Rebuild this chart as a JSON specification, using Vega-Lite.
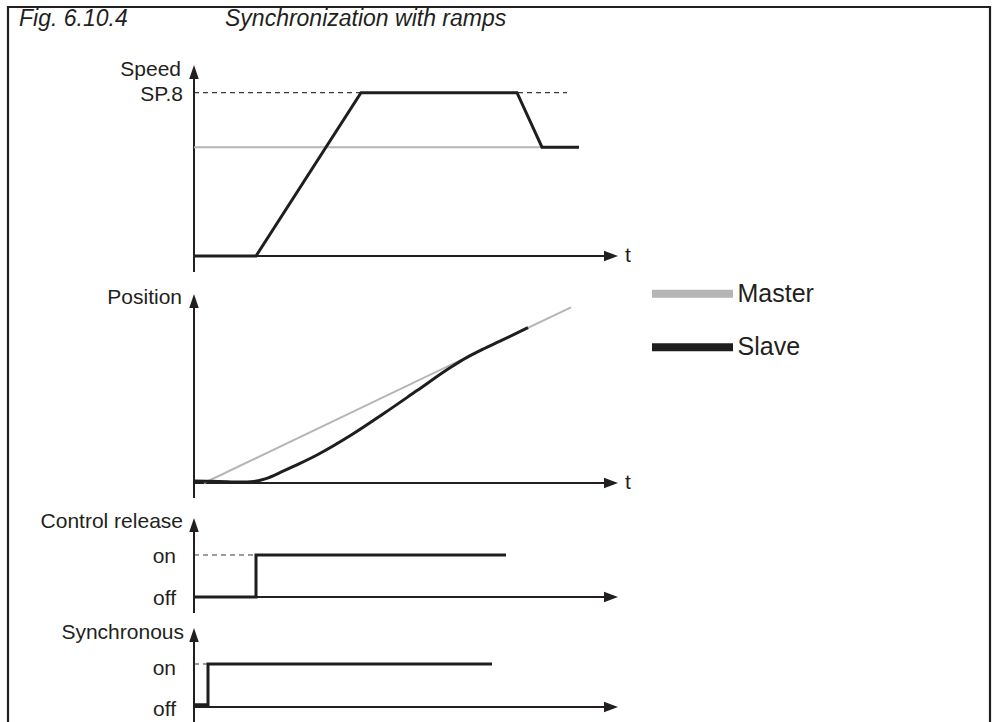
{
  "$schema": "https://vega.github.io/schema/vega-lite/v6.json",
  "width": 982,
  "height": 715,
  "autosize": {"type": "none"},
  "padding": {"left": 8, "top": 7, "right": 4, "bottom": 0},
  "background": "#ffffff",
  "config": {"view": {"stroke": null}},
  "data": {"values": [{}]},
  "datasets": {
    "speed": [
      {"series": "Master", "t": 0, "v": 66.6},
      {"series": "Master", "t": 38.5, "v": 66.6},
      {"series": "Slave", "t": 0, "v": 0},
      {"series": "Slave", "t": 6.2, "v": 0},
      {"series": "Slave", "t": 16.7, "v": 100},
      {"series": "Slave", "t": 32.3, "v": 100},
      {"series": "Slave", "t": 34.8, "v": 66.6},
      {"series": "Slave", "t": 38.5, "v": 66.6}
    ],
    "position": [
      {"series": "Master", "t": 1.0, "v": 0},
      {"series": "Master", "t": 37.7, "v": 87.85},
      {"series": "Slave", "t": 0, "v": 1.0},
      {"series": "Slave", "t": 2.5, "v": 0.8},
      {"series": "Slave", "t": 4.6, "v": 0.45},
      {"series": "Slave", "t": 6.0, "v": 0.8},
      {"series": "Slave", "t": 7.2, "v": 2.2},
      {"series": "Slave", "t": 8.9, "v": 5.9},
      {"series": "Slave", "t": 10.6, "v": 9.8},
      {"series": "Slave", "t": 12.3, "v": 14.0},
      {"series": "Slave", "t": 15.6, "v": 23.6},
      {"series": "Slave", "t": 18.9, "v": 34.5},
      {"series": "Slave", "t": 22.3, "v": 46.2},
      {"series": "Slave", "t": 25.6, "v": 57.6},
      {"series": "Slave", "t": 27.3, "v": 62.8},
      {"series": "Slave", "t": 28.9, "v": 66.9},
      {"series": "Slave", "t": 30.6, "v": 70.9},
      {"series": "Slave", "t": 33.4, "v": 77.7}
    ],
    "control": [
      {"series": "Slave", "i": 0, "t": 0, "v": 0},
      {"series": "Slave", "i": 1, "t": 6.2, "v": 0},
      {"series": "Slave", "i": 2, "t": 6.2, "v": 1},
      {"series": "Slave", "i": 3, "t": 31.2, "v": 1}
    ],
    "sync": [
      {"series": "Slave", "i": 0, "t": 0, "v": 0.05},
      {"series": "Slave", "i": 1, "t": 1.4, "v": 0.05},
      {"series": "Slave", "i": 2, "t": 1.4, "v": 1},
      {"series": "Slave", "i": 3, "t": 29.8, "v": 1}
    ]
  },
  "layer": [
    {
      "layer": [
        {"mark": {"type": "rect", "filled": false, "stroke": "#231f20", "strokeWidth": 2.2},
         "encoding": {
           "x": {"datum": -18.6, "type": "quantitative", "scale": {"domain": [-18.6, 79.6], "nice": false, "zero": false}, "axis": null},
           "x2": {"datum": 79.6},
           "y": {"datum": 152.48, "type": "quantitative", "scale": {"domain": [-285.36, 152.48], "nice": false, "zero": false}, "axis": null},
           "y2": {"datum": -400}}},
        {"data": {"values": [{"label": "Fig. 6.10.4", "t": -17.5}, {"label": "Synchronization with ramps", "t": 3.1}]},
         "mark": {"type": "text", "align": "left", "baseline": "alphabetic", "font": "Liberation Sans", "fontSize": 23, "fontStyle": "italic", "color": "#231f20"},
         "encoding": {
           "x": {"field": "t", "type": "quantitative", "scale": {"domain": [-18.6, 79.6], "nice": false, "zero": false}, "axis": null},
           "y": {"datum": 140.8, "type": "quantitative", "scale": {"domain": [-285.36, 152.48], "nice": false, "zero": false}, "axis": null},
           "text": {"field": "label"}}},
        {"data": {"values": [{"t0": 0, "t1": 37.3, "v": 100}]},
         "mark": {"type": "rule", "color": "#3a3a3a", "strokeWidth": 1.2, "strokeDash": [5, 4]},
         "encoding": {
           "x": {"field": "t0", "type": "quantitative", "scale": {"domain": [-18.6, 79.6], "nice": false, "zero": false}, "axis": null},
           "x2": {"field": "t1"},
           "y": {"field": "v", "type": "quantitative", "scale": {"domain": [-285.36, 152.48], "nice": false, "zero": false}, "axis": null}}},
        {"mark": {"type": "rule", "color": "#231f20", "strokeWidth": 2},
         "encoding": {
           "x": {"datum": 0, "type": "quantitative", "scale": {"domain": [-18.6, 79.6], "nice": false, "zero": false}, "axis": null},
           "y": {"datum": -9.8, "type": "quantitative", "scale": {"domain": [-285.36, 152.48], "nice": false, "zero": false}, "axis": null},
           "y2": {"datum": 112}}},
        {"mark": {"type": "rule", "color": "#231f20", "strokeWidth": 2},
         "encoding": {
           "x": {"datum": 0, "type": "quantitative", "scale": {"domain": [-18.6, 79.6], "nice": false, "zero": false}, "axis": null},
           "x2": {"datum": 41.6},
           "y": {"datum": 0, "type": "quantitative", "scale": {"domain": [-285.36, 152.48], "nice": false, "zero": false}, "axis": null}}},
        {"mark": {"type": "point", "shape": "M0,0L0.68,2L-0.68,2Z", "size": 196, "filled": true, "color": "#231f20", "opacity": 1},
         "encoding": {
           "x": {"datum": 0, "type": "quantitative", "scale": {"domain": [-18.6, 79.6], "nice": false, "zero": false}, "axis": null},
           "y": {"datum": 117, "type": "quantitative", "scale": {"domain": [-285.36, 152.48], "nice": false, "zero": false}, "axis": null}}},
        {"mark": {"type": "point", "shape": "M0,0L-2,-0.75L-2,0.75Z", "size": 196, "filled": true, "color": "#231f20", "opacity": 1},
         "encoding": {
           "x": {"datum": 42.4, "type": "quantitative", "scale": {"domain": [-18.6, 79.6], "nice": false, "zero": false}, "axis": null},
           "y": {"datum": 0, "type": "quantitative", "scale": {"domain": [-285.36, 152.48], "nice": false, "zero": false}, "axis": null}}},
        {"data": {"name": "speed"}, "transform": [{"filter": "datum.series === 'Master'"}],
         "mark": {"type": "line", "strokeWidth": 2},
         "encoding": {
           "x": {"field": "t", "type": "quantitative", "scale": {"domain": [-18.6, 79.6], "nice": false, "zero": false}, "axis": null},
           "y": {"field": "v", "type": "quantitative", "scale": {"domain": [-285.36, 152.48], "nice": false, "zero": false}, "axis": null},
           "color": {"field": "series", "type": "nominal", "scale": {"domain": ["Master", "Slave"], "range": ["#b5b5b5", "#1e1e1e"]}, "legend": null}}},
        {"data": {"name": "speed"}, "transform": [{"filter": "datum.series === 'Slave'"}],
         "mark": {"type": "line", "strokeWidth": 3},
         "encoding": {
           "x": {"field": "t", "type": "quantitative", "scale": {"domain": [-18.6, 79.6], "nice": false, "zero": false}, "axis": null},
           "y": {"field": "v", "type": "quantitative", "scale": {"domain": [-285.36, 152.48], "nice": false, "zero": false}, "axis": null},
           "color": {"field": "series", "type": "nominal", "legend": null}}},
        {"data": {"values": [{"label": "Speed", "v": 114.1}]},
         "mark": {"type": "text", "align": "right", "baseline": "middle", "font": "Liberation Sans", "fontSize": 21, "color": "#231f20"},
         "encoding": {
           "x": {"datum": -1.3, "type": "quantitative", "scale": {"domain": [-18.6, 79.6], "nice": false, "zero": false}, "axis": null},
           "y": {"field": "v", "type": "quantitative", "scale": {"domain": [-285.36, 152.48], "nice": false, "zero": false}, "axis": null},
           "text": {"field": "label"}}},
        {"data": {"values": [{"label": "SP.8", "v": 100}]},
         "mark": {"type": "text", "align": "right", "baseline": "middle", "dy": 2, "font": "Liberation Sans", "fontSize": 21, "color": "#231f20"},
         "encoding": {
           "x": {"datum": -1.1, "type": "quantitative", "scale": {"domain": [-18.6, 79.6], "nice": false, "zero": false}, "axis": null},
           "y": {"field": "v", "type": "quantitative", "scale": {"domain": [-285.36, 152.48], "nice": false, "zero": false}, "axis": null},
           "text": {"field": "label"}}},
        {"mark": {"type": "text", "align": "left", "baseline": "middle", "font": "Liberation Sans", "fontSize": 21, "color": "#231f20"},
         "encoding": {
           "x": {"datum": 43.1, "type": "quantitative", "scale": {"domain": [-18.6, 79.6], "nice": false, "zero": false}, "axis": null},
           "y": {"datum": 0, "type": "quantitative", "scale": {"domain": [-285.36, 152.48], "nice": false, "zero": false}, "axis": null},
           "text": {"value": "t"}}}
      ]
    },
    {
      "layer": [
        {"mark": {"type": "rule", "color": "#231f20", "strokeWidth": 2},
         "encoding": {
           "x": {"datum": 0, "type": "quantitative", "scale": {"domain": [-18.6, 79.6], "nice": false, "zero": false}, "axis": null},
           "y": {"datum": -7.5, "type": "quantitative", "scale": {"domain": [-119.5, 238], "nice": false, "zero": false}, "axis": null},
           "y2": {"datum": 90}}},
        {"mark": {"type": "rule", "color": "#231f20", "strokeWidth": 2},
         "encoding": {
           "x": {"datum": 0, "type": "quantitative", "scale": {"domain": [-18.6, 79.6], "nice": false, "zero": false}, "axis": null},
           "x2": {"datum": 41.6},
           "y": {"datum": 0, "type": "quantitative", "scale": {"domain": [-119.5, 238], "nice": false, "zero": false}, "axis": null}}},
        {"mark": {"type": "point", "shape": "M0,0L0.68,2L-0.68,2Z", "size": 196, "filled": true, "color": "#231f20", "opacity": 1},
         "encoding": {
           "x": {"datum": 0, "type": "quantitative", "scale": {"domain": [-18.6, 79.6], "nice": false, "zero": false}, "axis": null},
           "y": {"datum": 94.5, "type": "quantitative", "scale": {"domain": [-119.5, 238], "nice": false, "zero": false}, "axis": null}}},
        {"mark": {"type": "point", "shape": "M0,0L-2,-0.75L-2,0.75Z", "size": 196, "filled": true, "color": "#231f20", "opacity": 1},
         "encoding": {
           "x": {"datum": 42.4, "type": "quantitative", "scale": {"domain": [-18.6, 79.6], "nice": false, "zero": false}, "axis": null},
           "y": {"datum": 0, "type": "quantitative", "scale": {"domain": [-119.5, 238], "nice": false, "zero": false}, "axis": null}}},
        {"data": {"name": "position"}, "transform": [{"filter": "datum.series === 'Master'"}],
         "mark": {"type": "line", "strokeWidth": 2},
         "encoding": {
           "x": {"field": "t", "type": "quantitative", "scale": {"domain": [-18.6, 79.6], "nice": false, "zero": false}, "axis": null},
           "y": {"field": "v", "type": "quantitative", "scale": {"domain": [-119.5, 238], "nice": false, "zero": false}, "axis": null},
           "color": {"field": "series", "type": "nominal", "legend": null}}},
        {"data": {"name": "position"}, "transform": [{"filter": "datum.series === 'Slave'"}],
         "mark": {"type": "line", "strokeWidth": 3, "interpolate": "monotone"},
         "encoding": {
           "x": {"field": "t", "type": "quantitative", "scale": {"domain": [-18.6, 79.6], "nice": false, "zero": false}, "axis": null},
           "y": {"field": "v", "type": "quantitative", "scale": {"domain": [-119.5, 238], "nice": false, "zero": false}, "axis": null},
           "color": {"field": "series", "type": "nominal", "legend": null}}},
        {"data": {"values": [{"label": "Position", "v": 92.6}]},
         "mark": {"type": "text", "align": "right", "baseline": "middle", "font": "Liberation Sans", "fontSize": 21, "color": "#231f20"},
         "encoding": {
           "x": {"datum": -1.2, "type": "quantitative", "scale": {"domain": [-18.6, 79.6], "nice": false, "zero": false}, "axis": null},
           "y": {"field": "v", "type": "quantitative", "scale": {"domain": [-119.5, 238], "nice": false, "zero": false}, "axis": null},
           "text": {"field": "label"}}},
        {"mark": {"type": "text", "align": "left", "baseline": "middle", "font": "Liberation Sans", "fontSize": 21, "color": "#231f20"},
         "encoding": {
           "x": {"datum": 43.1, "type": "quantitative", "scale": {"domain": [-18.6, 79.6], "nice": false, "zero": false}, "axis": null},
           "y": {"datum": 0, "type": "quantitative", "scale": {"domain": [-119.5, 238], "nice": false, "zero": false}, "axis": null},
           "text": {"value": "t"}}}
      ]
    },
    {
      "layer": [
        {"data": {"values": [{"t0": 0, "t1": 6.2, "v": 1}]},
         "mark": {"type": "rule", "color": "#3a3a3a", "strokeWidth": 1.2, "strokeDash": [5, 4]},
         "encoding": {
           "x": {"field": "t0", "type": "quantitative", "scale": {"domain": [-18.6, 79.6], "nice": false, "zero": false}, "axis": null},
           "x2": {"field": "t1"},
           "y": {"field": "v", "type": "quantitative", "scale": {"domain": [-2.976, 14.048], "nice": false, "zero": false}, "axis": null}}},
        {"mark": {"type": "rule", "color": "#231f20", "strokeWidth": 2},
         "encoding": {
           "x": {"datum": 0, "type": "quantitative", "scale": {"domain": [-18.6, 79.6], "nice": false, "zero": false}, "axis": null},
           "y": {"datum": -0.381, "type": "quantitative", "scale": {"domain": [-2.976, 14.048], "nice": false, "zero": false}, "axis": null},
           "y2": {"datum": 1.75}}},
        {"mark": {"type": "rule", "color": "#231f20", "strokeWidth": 2},
         "encoding": {
           "x": {"datum": 0, "type": "quantitative", "scale": {"domain": [-18.6, 79.6], "nice": false, "zero": false}, "axis": null},
           "x2": {"datum": 41.6},
           "y": {"datum": 0, "type": "quantitative", "scale": {"domain": [-2.976, 14.048], "nice": false, "zero": false}, "axis": null}}},
        {"mark": {"type": "point", "shape": "M0,0L0.68,2L-0.68,2Z", "size": 196, "filled": true, "color": "#231f20", "opacity": 1},
         "encoding": {
           "x": {"datum": 0, "type": "quantitative", "scale": {"domain": [-18.6, 79.6], "nice": false, "zero": false}, "axis": null},
           "y": {"datum": 1.881, "type": "quantitative", "scale": {"domain": [-2.976, 14.048], "nice": false, "zero": false}, "axis": null}}},
        {"mark": {"type": "point", "shape": "M0,0L-2,-0.75L-2,0.75Z", "size": 196, "filled": true, "color": "#231f20", "opacity": 1},
         "encoding": {
           "x": {"datum": 42.4, "type": "quantitative", "scale": {"domain": [-18.6, 79.6], "nice": false, "zero": false}, "axis": null},
           "y": {"datum": 0, "type": "quantitative", "scale": {"domain": [-2.976, 14.048], "nice": false, "zero": false}, "axis": null}}},
        {"data": {"name": "control"},
         "mark": {"type": "line", "strokeWidth": 3},
         "encoding": {
           "x": {"field": "t", "type": "quantitative", "scale": {"domain": [-18.6, 79.6], "nice": false, "zero": false}, "axis": null},
           "y": {"field": "v", "type": "quantitative", "scale": {"domain": [-2.976, 14.048], "nice": false, "zero": false}, "axis": null},
           "order": {"field": "i", "type": "quantitative"},
           "color": {"field": "series", "type": "nominal", "legend": null}}},
        {"data": {"values": [{"label": "Control release", "v": 1.786}]},
         "mark": {"type": "text", "align": "right", "baseline": "middle", "font": "Liberation Sans", "fontSize": 21, "color": "#231f20"},
         "encoding": {
           "x": {"datum": -1.1, "type": "quantitative", "scale": {"domain": [-18.6, 79.6], "nice": false, "zero": false}, "axis": null},
           "y": {"field": "v", "type": "quantitative", "scale": {"domain": [-2.976, 14.048], "nice": false, "zero": false}, "axis": null},
           "text": {"field": "label"}}},
        {"data": {"values": [{"label": "on", "v": 1}, {"label": "off", "v": 0}]},
         "mark": {"type": "text", "align": "right", "baseline": "middle", "dy": 2, "font": "Liberation Sans", "fontSize": 21, "color": "#231f20"},
         "encoding": {
           "x": {"datum": -1.8, "type": "quantitative", "scale": {"domain": [-18.6, 79.6], "nice": false, "zero": false}, "axis": null},
           "y": {"field": "v", "type": "quantitative", "scale": {"domain": [-2.976, 14.048], "nice": false, "zero": false}, "axis": null},
           "text": {"field": "label"}}}
      ]
    },
    {
      "layer": [
        {"data": {"values": [{"t0": 0, "t1": 1.4, "v": 1}]},
         "mark": {"type": "rule", "color": "#3a3a3a", "strokeWidth": 1.2, "strokeDash": [5, 4]},
         "encoding": {
           "x": {"field": "t0", "type": "quantitative", "scale": {"domain": [-18.6, 79.6], "nice": false, "zero": false}, "axis": null},
           "x2": {"field": "t1"},
           "y": {"field": "v", "type": "quantitative", "scale": {"domain": [-0.349, 16.279], "nice": false, "zero": false}, "axis": null}}},
        {"mark": {"type": "rule", "color": "#231f20", "strokeWidth": 2},
         "encoding": {
           "x": {"datum": 0, "type": "quantitative", "scale": {"domain": [-18.6, 79.6], "nice": false, "zero": false}, "axis": null},
           "y": {"datum": -0.6, "type": "quantitative", "scale": {"domain": [-0.349, 16.279], "nice": false, "zero": false}, "axis": null},
           "y2": {"datum": 1.71}}},
        {"mark": {"type": "rule", "color": "#231f20", "strokeWidth": 2},
         "encoding": {
           "x": {"datum": 0, "type": "quantitative", "scale": {"domain": [-18.6, 79.6], "nice": false, "zero": false}, "axis": null},
           "x2": {"datum": 41.6},
           "y": {"datum": 0, "type": "quantitative", "scale": {"domain": [-0.349, 16.279], "nice": false, "zero": false}, "axis": null}}},
        {"mark": {"type": "point", "shape": "M0,0L0.68,2L-0.68,2Z", "size": 196, "filled": true, "color": "#231f20", "opacity": 1},
         "encoding": {
           "x": {"datum": 0, "type": "quantitative", "scale": {"domain": [-18.6, 79.6], "nice": false, "zero": false}, "axis": null},
           "y": {"datum": 1.837, "type": "quantitative", "scale": {"domain": [-0.349, 16.279], "nice": false, "zero": false}, "axis": null}}},
        {"mark": {"type": "point", "shape": "M0,0L-2,-0.75L-2,0.75Z", "size": 196, "filled": true, "color": "#231f20", "opacity": 1},
         "encoding": {
           "x": {"datum": 42.4, "type": "quantitative", "scale": {"domain": [-18.6, 79.6], "nice": false, "zero": false}, "axis": null},
           "y": {"datum": 0, "type": "quantitative", "scale": {"domain": [-0.349, 16.279], "nice": false, "zero": false}, "axis": null}}},
        {"data": {"name": "sync"},
         "mark": {"type": "line", "strokeWidth": 3},
         "encoding": {
           "x": {"field": "t", "type": "quantitative", "scale": {"domain": [-18.6, 79.6], "nice": false, "zero": false}, "axis": null},
           "y": {"field": "v", "type": "quantitative", "scale": {"domain": [-0.349, 16.279], "nice": false, "zero": false}, "axis": null},
           "order": {"field": "i", "type": "quantitative"},
           "color": {"field": "series", "type": "nominal", "legend": null}}},
        {"data": {"values": [{"label": "Synchronous", "v": 1.72}]},
         "mark": {"type": "text", "align": "right", "baseline": "middle", "font": "Liberation Sans", "fontSize": 21, "color": "#231f20"},
         "encoding": {
           "x": {"datum": -1.0, "type": "quantitative", "scale": {"domain": [-18.6, 79.6], "nice": false, "zero": false}, "axis": null},
           "y": {"field": "v", "type": "quantitative", "scale": {"domain": [-0.349, 16.279], "nice": false, "zero": false}, "axis": null},
           "text": {"field": "label"}}},
        {"data": {"values": [{"label": "on", "v": 1}]},
         "mark": {"type": "text", "align": "right", "baseline": "middle", "dy": 5, "font": "Liberation Sans", "fontSize": 21, "color": "#231f20"},
         "encoding": {
           "x": {"datum": -1.8, "type": "quantitative", "scale": {"domain": [-18.6, 79.6], "nice": false, "zero": false}, "axis": null},
           "y": {"field": "v", "type": "quantitative", "scale": {"domain": [-0.349, 16.279], "nice": false, "zero": false}, "axis": null},
           "text": {"field": "label"}}},
        {"data": {"values": [{"label": "off", "v": 0}]},
         "mark": {"type": "text", "align": "right", "baseline": "middle", "dy": 3, "font": "Liberation Sans", "fontSize": 21, "color": "#231f20"},
         "encoding": {
           "x": {"datum": -1.8, "type": "quantitative", "scale": {"domain": [-18.6, 79.6], "nice": false, "zero": false}, "axis": null},
           "y": {"field": "v", "type": "quantitative", "scale": {"domain": [-0.349, 16.279], "nice": false, "zero": false}, "axis": null},
           "text": {"field": "label"}}}
      ]
    },
    {
      "data": {"values": [{"series": "Master"}, {"series": "Slave"}]},
      "layer": [
        {"mark": {"type": "rule", "strokeWidth": 8},
         "encoding": {
           "x": {"datum": 45.8, "type": "quantitative", "scale": {"domain": [-18.6, 79.6], "nice": false, "zero": false}, "axis": null},
           "x2": {"datum": 53.9},
           "y": {"field": "series", "type": "nominal", "scale": {"type": "point", "domain": ["Master", "Slave"], "range": [286.8, 340.2], "padding": 0}, "axis": null},
           "color": {"field": "series", "type": "nominal", "legend": null}}},
        {"mark": {"type": "text", "align": "left", "baseline": "middle", "font": "Liberation Sans", "fontSize": 25, "color": "#231f20"},
         "encoding": {
           "x": {"datum": 54.35, "type": "quantitative", "scale": {"domain": [-18.6, 79.6], "nice": false, "zero": false}, "axis": null},
           "y": {"field": "series", "type": "nominal", "scale": {"type": "point", "domain": ["Master", "Slave"], "range": [286.8, 340.2], "padding": 0}, "axis": null},
           "text": {"field": "series"}}}
      ]
    }
  ],
  "resolve": {"scale": {"y": "independent"}}
}
